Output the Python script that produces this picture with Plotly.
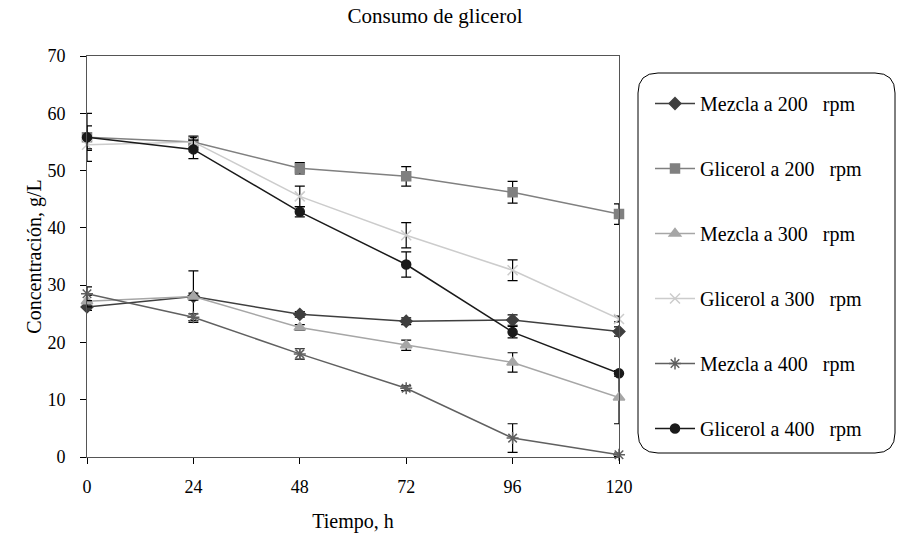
import plotly.graph_objects as go

tiempo = [0, 24, 48, 72, 96, 120]

mezcla_200 = [26.2, 28.0, 24.9, 23.7, 23.9, 21.9]
mezcla_200_err = [0.6, 4.5, 0.5, 0.6, 0.9, 0.8]

glicerol_200 = [55.8, 55.0, 50.4, 49.0, 46.2, 42.4]
glicerol_200_err = [4.2, 1.0, 1.0, 1.7, 1.9, 1.8]

mezcla_300 = [27.2, 28.0, 22.6, 19.5, 16.5, 10.4]
mezcla_300_err = [1.0, 0.6, 0.5, 0.9, 1.7, 4.6]

glicerol_300 = [54.5, 55.0, 45.5, 38.7, 32.6, 24.1]
glicerol_300_err = [1.0, 0.8, 1.8, 2.2, 1.8, 0.5]

mezcla_400 = [28.5, 24.4, 18.0, 12.0, 3.3, 0.4]
mezcla_400_err = [1.2, 0.6, 0.9, 0.4, 2.5, 0.3]

glicerol_400 = [55.8, 53.7, 42.8, 33.6, 21.8, 14.6]
glicerol_400_err = [2.0, 1.6, 0.9, 2.2, 1.0, 0.5]

SP = "\u00a0\u00a0\u00a0"
series = [
    ("Mezcla a 200" + SP + "rpm", mezcla_200, mezcla_200_err, "#3f3f3f", "diamond", 9),
    ("Glicerol a 200" + SP + "rpm", glicerol_200, glicerol_200_err, "#808080", "square", 9),
    ("Mezcla a 300" + SP + "rpm", mezcla_300, mezcla_300_err, "#a6a6a6", "triangle-up", 10),
    ("Glicerol a 300" + SP + "rpm", glicerol_300, glicerol_300_err, "#cccccc", "x-thin-open", 10),
    ("Mezcla a 400" + SP + "rpm", mezcla_400, mezcla_400_err, "#606060", "asterisk-open", 10),
    ("Glicerol a 400" + SP + "rpm", glicerol_400, glicerol_400_err, "#1a1a1a", "circle", 9),
]

FONT = "Liberation Serif"

fig = go.Figure()
for i, (name, vals, errs, color, sym, size) in enumerate(series):
    fig.add_trace(go.Scatter(
        x=tiempo, y=vals, name=name, mode="lines+markers",
        legendgroup=f"g{i}",
        line=dict(color=color, width=1.5),
        marker=dict(symbol=sym, size=size, color=color,
                    line=dict(color=color, width=1.5)),
        error_y=dict(type="data", array=errs, visible=True,
                     color="#000000", thickness=1.2, width=5),
        cliponaxis=False,
    ))

W, H = 897, 537
L, R, T, B = 87, 278, 56, 80
pw, ph = W - L - R, H - T - B

def px(x):
    return (x - L) / pw

def py(y):
    return (H - B - y) / ph

# rounded legend box
x0, x1, y0, y1, r = 638, 895, 73, 453, 20
path = (f"M {px(x0+r)},{py(y0)} L {px(x1-r)},{py(y0)} Q {px(x1)},{py(y0)} {px(x1)},{py(y0+r)} "
        f"L {px(x1)},{py(y1-r)} Q {px(x1)},{py(y1)} {px(x1-r)},{py(y1)} "
        f"L {px(x0+r)},{py(y1)} Q {px(x0)},{py(y1)} {px(x0)},{py(y1-r)} "
        f"L {px(x0)},{py(y0+r)} Q {px(x0)},{py(y0)} {px(x0+r)},{py(y0)} Z")

fig.update_layout(
    width=W, height=H,
    margin=dict(l=L, r=R, t=T, b=B),
    paper_bgcolor="white", plot_bgcolor="white",
    font=dict(family=FONT, size=17, color="#000000"),
    title=dict(text="Consumo de glicerol", x=435 / W, xanchor="center",
               y=1 - 16 / H, yanchor="middle",
               font=dict(family=FONT, size=21, color="#000000")),
    showlegend=True,
    legend=dict(x=px(650), y=py(84), xanchor="left", yanchor="top",
                bgcolor="rgba(0,0,0,0)", borderwidth=0,
                tracegroupgap=36, itemwidth=40,
                font=dict(family=FONT, size=20, color="#000000")),
    shapes=[dict(type="path", path=path, xref="paper", yref="paper",
                 line=dict(color="#000000", width=1))],
)

fig.update_xaxes(
    range=[0, 120], tickvals=tiempo, ticks="outside", ticklen=6,
    tickcolor="#000000", showgrid=False, zeroline=False, automargin=False,
    showline=True, linecolor="#555555", linewidth=1, mirror=True,
    tickfont=dict(family=FONT, size=18), ticklabelstandoff=7,
    title=dict(text="Tiempo, h", font=dict(family=FONT, size=20), standoff=18),
)
fig.update_yaxes(
    range=[0, 70], dtick=10, ticks="outside", ticklen=6,
    tickcolor="#000000", showgrid=False, zeroline=False, automargin=False,
    showline=True, linecolor="#555555", linewidth=1, mirror=True,
    tickfont=dict(family=FONT, size=18), ticklabelstandoff=11,
    title=dict(text="Concentración, g/L", font=dict(family=FONT, size=20), standoff=0),
)

fig.write_html("out.html")
